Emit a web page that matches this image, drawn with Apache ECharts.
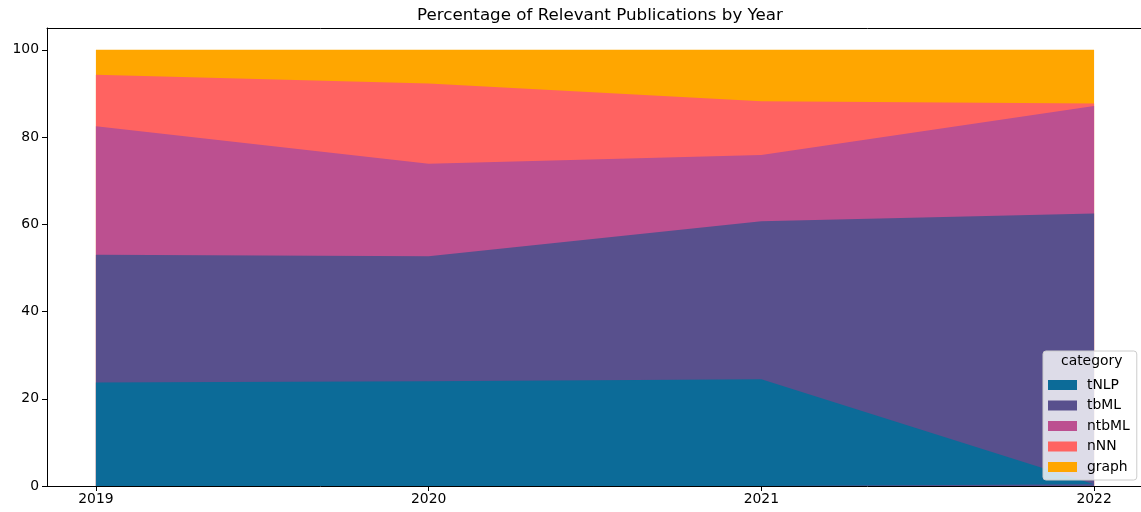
<!DOCTYPE html>
<html>
<head>
<meta charset="utf-8">
<script src="https://cdn.jsdelivr.net/npm/echarts@6/dist/echarts.min.js"></script>
<style>html,body{margin:0;padding:0;background:#fff}#c{width:1141px;height:512px}</style>
</head>
<body>
<div id="c"></div>
<script>
const years = [2019, 2020, 2021, 2022];
const categories = ['tNLP', 'tbML', 'ntbML', 'nNN', 'graph'];
const tNLP  = [23.7, 24.0, 24.5, 0.4];
const tbML  = [29.3, 28.7, 36.2, 62.1];
const ntbML = [29.5, 21.2, 15.2, 24.6];
const nNN   = [11.8, 18.4, 12.3, 0.6];
const graph = [5.7, 7.7, 11.8, 12.3];
const yTicks = [0, 20, 40, 60, 80, 100];
const colors = ['#0c6b98', '#58508d', '#bc5090', '#ff6361', '#ffa600'];
const seriesValues = [tNLP, tbML, ntbML, nNN, graph];

// cumulative tops for the stacked areas
const cumulative = [];
seriesValues.forEach((vals, i) => {
  cumulative.push(vals.map((v, j) => (i ? cumulative[i - 1][j] : 0) + v));
});

const font = 'DejaVu Sans';
const chart = echarts.init(document.getElementById('c'), null, {renderer: 'canvas'});
const seriesList = categories.map((name, i) => ({
  name: name, type: 'line',
  data: years.map((y, j) => [y, cumulative[i][j]]),
  showSymbol: false, symbol: 'none',
  lineStyle: {width: 0},
  areaStyle: {color: colors[i], opacity: 1, origin: 'start'},
  itemStyle: {color: colors[i]},
  z: 2
})).reverse();

chart.setOption({
  animation: false,
  title: {
    text: 'Percentage of Relevant Publications by Year',
    left: 595, top: 2, textAlign: 'center',
    textStyle: {fontFamily: font, fontSize: 16.7, fontWeight: 'normal', color: '#000'}
  },
  grid: {left: 47, right: 0, top: 28, bottom: 26, show: false},
  xAxis: [{
    type: 'value', min: 2018.853, max: 2022.141,
    axisLine: {show: true, lineStyle: {color: '#000', width: 1}},
    axisTick: {show: true, length: 5, lineStyle: {color: '#000'}, customValues: years},
    axisLabel: {color: '#000', fontFamily: font, fontSize: 13.9, margin: 6, customValues: years, formatter: v => String(v)},
    splitLine: {show: false}, z: 5
  }, {
    type: 'value', position: 'top', min: 2018.853, max: 2022.141,
    axisLine: {show: true, lineStyle: {color: '#000', width: 1}},
    axisTick: {show: false}, axisLabel: {show: false}, splitLine: {show: false}
  }],
  yAxis: {
    type: 'value', min: 0, max: 105,
    axisLine: {show: true, lineStyle: {color: '#000', width: 1}},
    axisTick: {show: true, length: 5, lineStyle: {color: '#000'}, customValues: yTicks},
    axisLabel: {color: '#000', fontFamily: font, fontSize: 13.9, margin: 8, customValues: yTicks},
    splitLine: {show: false}, z: 5
  },
  legend: {
    orient: 'vertical', left: 1043, top: 351, z: 20,
    data: categories,
    icon: 'rect', itemWidth: 29, itemHeight: 10, itemGap: 6.5,
    padding: [27, 7, 6, 5],
    backgroundColor: 'rgba(255,255,255,0.8)', borderColor: '#cccccc', borderWidth: 1, borderRadius: 3,
    textStyle: {fontFamily: font, fontSize: 13.9, color: '#000', lineHeight: 14, padding: [0, 0, 0, 5]},
    itemStyle: {borderWidth: 0}
  },
  graphic: [{
    type: 'text', left: 1061, top: 354, z: 100,
    style: {text: 'category', fontFamily: font, fontSize: 13.9, fill: '#000'}
  }],
  series: seriesList
});
</script>
</body>
</html>
